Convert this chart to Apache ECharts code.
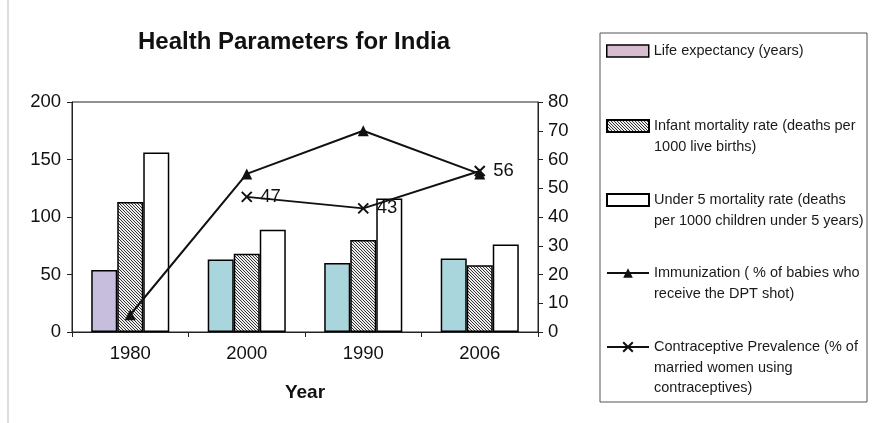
<!DOCTYPE html>
<html><head><meta charset="utf-8">
<script src="https://cdn.jsdelivr.net/npm/echarts@6/dist/echarts.min.js"></script>
<style>html,body{margin:0;padding:0;background:#fff}#c{width:877px;height:423px}</style>
</head><body><div id="c"></div>
<script>
const categories = ['1980', '2000', '1990', '2006'];
const lifeExpectancy = [54, 63, 60, 64];
const infantMortality = [113, 68, 80, 58];
const under5Mortality = [156, 89, 116, 76];
const immunization = [6, 55, 70, 55];
const contraceptive = [null, 47, 43, 56];
const leftTicks = [0, 50, 100, 150, 200];
const rightTicks = [0, 10, 20, 30, 40, 50, 60, 70, 80];
const seriesNames = [
  'Life expectancy (years)',
  'Infant mortality rate (deaths per 1000 live births)',
  'Under 5 mortality rate (deaths per 1000 children under 5 years)',
  'Immunization ( % of babies who receive the DPT shot)',
  'Contraceptive Prevalence (% of married women using contraceptives)'
];
const legendLines = [
  ['Life expectancy (years)'],
  ['Infant mortality rate (deaths per', '1000 live births)'],
  ['Under 5 mortality rate (deaths', 'per 1000 children under 5 years)'],
  ['Immunization ( % of babies who', 'receive the DPT shot)'],
  ['Contraceptive Prevalence (% of', 'married women using', 'contraceptives)']
];

function hatch() {
  const s = 3;
  const cv = document.createElement('canvas');
  cv.width = s; cv.height = s;
  const g = cv.getContext('2d');
  g.fillStyle = '#eeeeee'; g.fillRect(0, 0, s, s);
  g.strokeStyle = '#333'; g.lineWidth = 1;
  for (const c of [-s, 0, s]) {
    g.beginPath(); g.moveTo(-1, -1 + c); g.lineTo(s + 1, s + 1 + c); g.stroke();
  }
  return cv;
}

const chart = echarts.init(document.getElementById('c'), null, {renderer: 'canvas'});
const font = 'Liberation Sans, Arial, sans-serif';
const lineH = 20.5;
const iconCenters = [51, 126, 200, 273, 347];
const legends = legendLines.map((lines, i) => {
  const n = lines.length;
  const item = {name: seriesNames[i]};
  if (i < 3) item.icon = 'rect';
  if (i === 0) item.itemStyle = {color: '#d8bccf', borderColor: '#000', borderWidth: 1.5};
  const padded = new Array(n - 1).fill(' ').concat(lines).join('\n');
  return {
    data: [item],
    orient: 'vertical',
    left: 606,
    top: iconCenters[i] - (2 * n - 1) * lineH / 2,
    padding: 0,
    itemWidth: 42,
    itemHeight: 12,
    itemGap: 4,
    selectedMode: false,
    formatter: () => padded,
    textStyle: {fontFamily: font, fontSize: 14.5, color: '#1a1a1a', lineHeight: lineH}
  };
});

const barBase = {type: 'bar', barGap: '0%', barCategoryGap: '33%', yAxisIndex: 0};
const axisFont = {fontFamily: font, fontSize: 18.5, color: '#111'};
chart.setOption({
  animation: false,
  backgroundColor: '#fff',
  title: {
    text: 'Health Parameters for India', left: 289, top: 25, textAlign: 'center',
    textStyle: {fontFamily: font, fontSize: 24, fontWeight: 'bold', color: '#111'}
  },
  legend: legends,
  grid: {left: 72, right: 339, top: 102, bottom: 91, show: true, borderColor: '#222', borderWidth: 1},
  xAxis: {
    type: 'category', data: categories,
    axisLine: {lineStyle: {color: '#222', width: 1}},
    axisTick: {show: true, length: 5, lineStyle: {color: '#222'}},
    axisLabel: Object.assign({margin: 12}, axisFont),
    name: 'Year', nameLocation: 'middle', nameGap: 51,
    nameTextStyle: {fontFamily: font, fontSize: 19, fontWeight: 'bold', color: '#111'}
  },
  yAxis: [
    {type: 'value', min: leftTicks[0], max: leftTicks[leftTicks.length - 1], interval: 50,
     axisLine: {show: true, lineStyle: {color: '#222'}},
     axisTick: {show: true, length: 5, lineStyle: {color: '#222'}},
     axisLabel: Object.assign({margin: 11}, axisFont),
     splitLine: {show: false}},
    {type: 'value', min: rightTicks[0], max: rightTicks[rightTicks.length - 1], interval: 10, position: 'right',
     axisLine: {show: true, lineStyle: {color: '#222'}},
     axisTick: {show: true, length: 5, lineStyle: {color: '#222'}},
     axisLabel: Object.assign({margin: 10}, axisFont),
     splitLine: {show: false}}
  ],
  series: [
    Object.assign({}, barBase, {name: seriesNames[0], data: lifeExpectancy,
      itemStyle: {color: p => p.dataIndex === 0 ? '#c7bddc' : '#a9d5dd', borderColor: '#000', borderWidth: 1.5}}),
    Object.assign({}, barBase, {name: seriesNames[1], data: infantMortality,
      itemStyle: {color: {image: hatch(), repeat: 'repeat'}, borderColor: '#000', borderWidth: 1.5}}),
    Object.assign({}, barBase, {name: seriesNames[2], data: under5Mortality,
      itemStyle: {color: '#fff', borderColor: '#000', borderWidth: 1.5}}),
    {type: 'line', name: seriesNames[3], yAxisIndex: 1, data: immunization,
     symbol: 'triangle', symbolSize: 11, lineStyle: {color: '#111', width: 2},
     itemStyle: {color: '#111'}},
    {type: 'line', name: seriesNames[4], yAxisIndex: 1, data: contraceptive,
     symbol: 'path://M0,0L10,10M10,0L0,10', symbolSize: 10, connectNulls: false,
     lineStyle: {color: '#111', width: 2},
     itemStyle: {color: 'none', borderColor: '#111', borderWidth: 2},
     label: {show: true, position: 'right', distance: 6, fontFamily: font, fontSize: 18.5, color: '#111'}}
  ],
  graphic: [
    {type: 'rect', shape: {x: 600, y: 33, width: 267, height: 369}, style: {fill: 'none', stroke: '#555', lineWidth: 1}},
    {type: 'line', shape: {x1: 8, y1: 0, x2: 8, y2: 423}, style: {stroke: '#bbb', lineWidth: 1}}
  ]
});
</script></body></html>
